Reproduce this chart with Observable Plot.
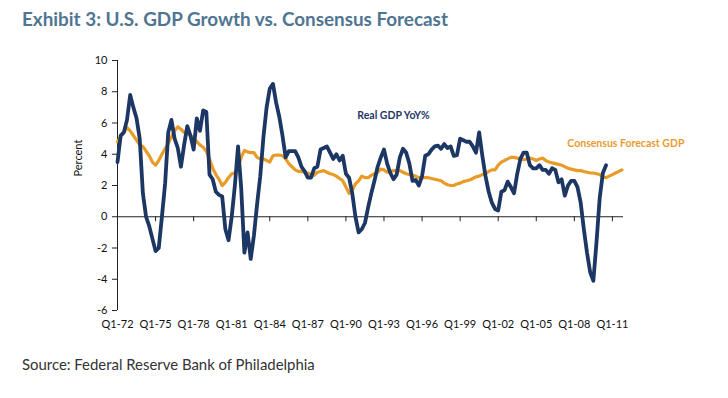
<!DOCTYPE html>
<html><head><meta charset="utf-8">
<script src="https://cdn.jsdelivr.net/npm/d3@7"></script>
<script src="https://cdn.jsdelivr.net/npm/@observablehq/plot@0.6"></script>
<style>
body{margin:0;background:#fff;}
#wrap{position:relative;width:728px;height:398px;overflow:hidden;font-family:Lato,"Open Sans",sans-serif;}
#title{position:absolute;left:22px;top:9px;font-weight:700;color:#4f7591;font-size:18px;line-height:20px;white-space:nowrap;}
#chart{position:absolute;left:0;top:40px;}
#source{position:absolute;left:22px;top:355px;font-size:14px;line-height:18px;color:#333;white-space:nowrap;}
</style></head>
<body><div id="wrap">
<div id="title">Exhibit 3: U.S. GDP Growth vs. Consensus Forecast</div>
<div id="chart"></div>
<div id="source">Source: Federal Reserve Bank of Philadelphia</div>
</div>
<script>
// Quarterly series, index 0 = Q1-1972
const realGdp = [
 3.5, 5.2, 5.4, 6.2, 7.8, 7.0, 6.3, 5.0, 1.5, 0.0,
 -0.6, -1.4, -2.2, -2.0, 0.0, 2.1, 5.4, 6.2, 5.0, 4.4,
 3.2, 4.6, 5.8, 5.2, 4.3, 6.3, 5.5, 6.8, 6.7, 2.7,
 2.4, 1.6, 1.4, 1.3, -0.8, -1.5, 0.0, 2.0, 4.5, 1.8,
 -2.3, -1.0, -2.7, -1.2, 0.8, 2.6, 5.1, 7.0, 8.2, 8.5,
 7.3, 6.4, 5.2, 3.8, 4.2, 4.2, 4.2, 3.8, 3.2, 2.9,
 2.5, 2.5, 3.1, 3.2, 4.3, 4.4, 4.5, 4.1, 3.7, 4.0,
 3.6, 3.9, 2.75, 2.5, 1.5, 0.0, -1.0, -0.8, -0.4, 0.6,
 1.5, 2.3, 3.2, 3.8, 4.3, 3.4, 2.8, 2.4, 2.7, 3.8,
 4.35, 4.1, 3.4, 2.3, 2.35, 2.0, 2.6, 3.9, 4.0, 4.3,
 4.5, 4.55, 4.35, 4.65, 4.4, 4.5, 3.9, 3.95, 5.0, 4.9,
 4.8, 4.8, 4.5, 4.1, 5.4, 3.9, 2.6, 1.6, 0.9, 0.5,
 0.4, 1.6, 1.7, 2.25, 1.9, 1.5, 2.75, 3.7, 4.1, 4.1,
 3.3, 3.1, 3.1, 3.3, 3.0, 3.0, 2.75, 3.1, 3.0, 2.2,
 2.4, 1.35, 2.0, 2.3, 2.3, 1.9, 0.9, -0.8, -2.3, -3.55,
 -4.1, -1.6, 1.2, 2.8, 3.3
];
const consensus = [
 4.8, 5.1, 5.4, 5.7, 5.5, 5.2, 4.9, 4.6, 4.5, 4.2,
 3.9, 3.5, 3.3, 3.6, 4.0, 4.35, 4.7, 5.1, 5.5, 5.75,
 5.6, 5.4, 5.3, 5.2, 5.0, 4.8, 4.6, 4.45, 4.2, 3.7,
 3.1, 2.7, 2.4, 2.0, 2.2, 2.5, 2.75, 2.8, 3.2, 3.8,
 4.25, 4.15, 4.1, 4.1, 3.8, 3.7, 3.7, 3.6, 3.5, 3.9,
 3.95, 3.95, 3.9, 3.7, 3.4, 3.2, 3.0, 2.9, 2.9, 2.85,
 2.8, 2.7, 2.65, 2.85, 2.9, 2.95, 2.85, 2.75, 2.7, 2.6,
 2.45, 2.3, 1.9, 1.5, 1.7, 2.1, 2.3, 2.6, 2.5, 2.5,
 2.65, 2.75, 2.85, 3.05, 3.0, 2.85, 2.9, 2.95, 2.95, 2.95,
 2.85, 2.75, 2.7, 2.65, 2.6, 2.5, 2.5, 2.5, 2.5, 2.45,
 2.4, 2.35, 2.3, 2.15, 2.05, 2.0, 2.0, 2.1, 2.15, 2.25,
 2.3, 2.35, 2.45, 2.55, 2.6, 2.7, 2.75, 2.9, 3.0, 3.0,
 3.3, 3.5, 3.6, 3.7, 3.8, 3.8, 3.75, 3.7, 3.65, 3.7,
 3.75, 3.7, 3.6, 3.7, 3.75, 3.6, 3.5, 3.45, 3.4, 3.35,
 3.3, 3.2, 3.1, 3.05, 3.0, 2.95, 2.95, 2.9, 2.85, 2.8,
 2.8, 2.75, 2.7, 2.55, 2.5, 2.6, 2.7, 2.8, 2.9, 3.0
];
const tickQuarters = [0, 12, 24, 36, 48, 60, 72, 84, 96, 108, 120, 132, 144, 156];
const tickLabels = ["Q1-72","Q1-75","Q1-78","Q1-81","Q1-84","Q1-87","Q1-90","Q1-93","Q1-96","Q1-99","Q1-02","Q1-05","Q1-08","Q1-11"];
const yTicks = [-6, -4, -2, 0, 2, 4, 6, 8, 10];
const seriesNames = ["Real GDP YoY%", "Consensus Forecast GDP"];
const labelQuarter = [75.6, 141.8];
const labelValue = [6.48, 4.67];

const NAVY = "#1d3765", ORANGE = "#e89c27";
const realData = realGdp.map((v, i) => ({q: i, v}));
const consData = consensus.map((v, i) => ({q: i, v}));
const labelMap = new Map(tickQuarters.map((q, i) => [q, tickLabels[i]]));
const labels = seriesNames.map((name, i) => ({name, q: labelQuarter[i], v: labelValue[i], color: i === 0 ? NAVY : "#e99b30"}));

const chart = Plot.plot({
  width: 728, height: 300,
  marginLeft: 117, marginRight: 105, marginTop: 20, marginBottom: 30,
  style: {fontFamily: "Lato, 'Open Sans', sans-serif", fontSize: "11px", color: "#111", background: "transparent"},
  x: {domain: [0, 159.5]},
  y: {domain: [-6, 10]},
  marks: [
    Plot.ruleX([0], {stroke: "#222", strokeWidth: 1}),
    Plot.ruleY([0], {stroke: "#222", strokeWidth: 1}),
    Plot.ruleX(tickQuarters, {x: d => d, y1: 0, y2: -0.32, stroke: "#222"}),
    Plot.axisY({ticks: yTicks, tickSize: 5, tickPadding: 5, label: null, stroke: "#222", tickFormat: d => String(d)}),
    Plot.axisX({ticks: tickQuarters, tickSize: 0, tickPadding: 10, tickFormat: d => labelMap.get(d), label: null}),
    Plot.text(["Percent"], {frameAnchor: "left", rotate: -90, dx: -39, dy: -9, fontSize: 11}),
    Plot.line(consData, {x: "q", y: "v", stroke: ORANGE, strokeWidth: 3.2, strokeLinejoin: "round"}),
    Plot.line(realData, {x: "q", y: "v", stroke: NAVY, strokeWidth: 3.8, strokeLinejoin: "round"}),
    Plot.text(labels, {x: "q", y: "v", text: "name", fill: "color", textAnchor: "start", fontWeight: "bold", fontSize: 10.5})
  ]
});
document.getElementById("chart").appendChild(chart);

function fit(el, w) {
  const r = el.getBoundingClientRect().width;
  const fs = parseFloat(getComputedStyle(el).fontSize);
  el.style.fontSize = (fs * w / r) + "px";
}
fit(document.getElementById("title"), 426);
fit(document.getElementById("source"), 293);
</script>
</body></html>
